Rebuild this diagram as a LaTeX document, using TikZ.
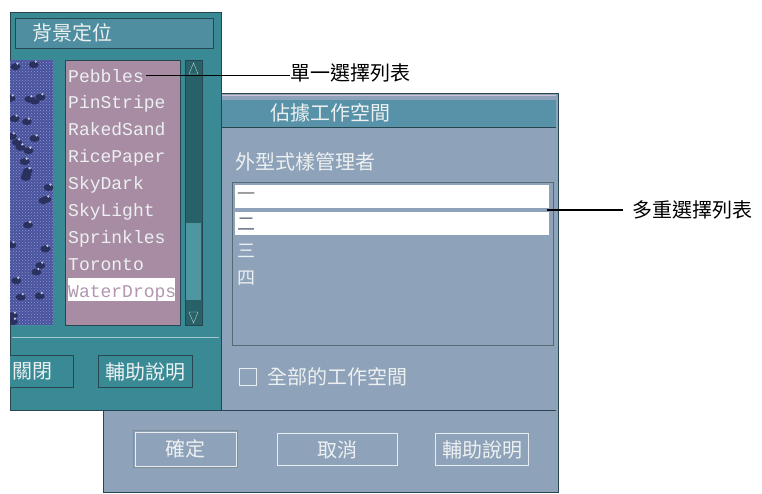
\documentclass[tikz,border=0pt]{standalone}
\usepackage{fontspec}
\newfontfamily\cjk{Noto Sans CJK TC}
\setmonofont{Liberation Mono}
\usetikzlibrary{patterns,positioning}

\definecolor{winteal}{RGB}{58,138,150}
\definecolor{titleteal}{RGB}{78,142,160}
\definecolor{listmauve}{RGB}{168,140,163}
\definecolor{texblue}{RGB}{72,82,158}
\definecolor{bodyblue}{RGB}{142,162,186}
\definecolor{rtitle}{RGB}{88,146,168}
\definecolor{lighttext}{RGB}{236,240,240}
\definecolor{selpink}{RGB}{178,150,178}
\definecolor{edgedark}{RGB}{40,70,80}

\begin{document}
\begin{tikzpicture}[x=1pt, y=-1pt, every node/.style={inner sep=0pt}]

\tikzset{
    frame/.style={draw=edgedark, line width=0.8pt},
    cjktext/.style={font=\cjk\fontsize{20}{22}\selectfont, text=lighttext, anchor=west},
    note/.style={font=\cjk\fontsize{20}{22}\selectfont, text=black, anchor=west},
    listitem/.style={font=\ttfamily\fontsize{18}{20}\selectfont, text=lighttext, anchor=base west},
    lbtn/.style={draw=edgedark, line width=1pt, fill=winteal, anchor=north west},
    rbtn/.style={draw=white!80!bodyblue, line width=1.2pt, fill=bodyblue, anchor=north west},
    leader/.style={draw=black, line width=1.5pt}
}

\useasboundingbox (0,0) rectangle (762,493);

% window behind: occupy workspace
\draw[frame, fill=bodyblue] (103,93) rectangle (558,492);
\draw[selpink!60!white, line width=1pt] (222,95) -- (556,95);
\fill[rtitle] (222,100) rectangle (556,127);
\draw[frame] (222,127) -- (556,127);
\node[cjktext] (rtitletext) at (270,113) {佔據工作空間};
\node[cjktext] (mgr) at (235,162) {外型式樣管理者};
\node[frame, draw=edgedark!80, fill=bodyblue, minimum width=321, minimum height=163, anchor=north west] (multi) at (232,182) {};
\fill[white] (235,185) rectangle (549,208);
\fill[white] (235,212) rectangle (549,235);
\foreach \t/\c [count=\i] in {一/gray, 二/bodyblue!70!black, 三/lighttext, 四/lighttext} {
    \node[cjktext, font=\cjk\fontsize{18}{20}\selectfont, text=\c] (row\i) at (237, {197 + 27*(\i-1)}) {\t};
}
\node[draw=white!80!bodyblue, line width=1.2pt, minimum size=17, anchor=north west] (chk) at (239,368) {};
\node[cjktext, right=10pt of chk] (allws) {全部的工作空間};
\draw[frame] (105,410) -- (556,410);
\node[rbtn, draw=edgedark!60, minimum width=104, minimum height=37] (ok) at (133,430) {};
\draw[white!80!bodyblue] ([shift={(2,-2)}]ok.south west) rectangle ([shift={(-2,2)}]ok.north east);
\node[cjktext, anchor=center] at (ok) {確定};
\node[rbtn, minimum width=120, minimum height=32] (cancel) at (277,433) {};
\node[cjktext, anchor=center] at (cancel) {取消};
\node[rbtn, minimum width=93, minimum height=32] (rhelp) at (435,433) {};
\node[cjktext, anchor=center] at (rhelp) {輔助說明};

% window in front: backdrop style
\draw[frame, fill=winteal] (10,12) rectangle (221,410);
\node[frame, fill=titleteal, minimum width=198, minimum height=30, anchor=north west] (ltitle) at (15,18) {};
\node[cjktext] (ltitletext) at (32,33) {背景定位};
\begin{scope}
    \clip (10,60) rectangle (53,325);
    \fill[texblue] (10,60) rectangle (53,325);
    \fill[pattern=crosshatch dots, pattern color=texblue!60!white] (10,60) rectangle (53,325);
    \pgfmathsetseed{42}
    \foreach \k in {1,...,30} {
        \pgfmathsetmacro\bx{10+rnd*43}
        \pgfmathsetmacro\by{60+rnd*265}
        \fill[texblue!60!black] (\bx,\by) ellipse (5 and 3.5);
        \fill[texblue!35!white] (\bx+2,\by-3) circle (1.3);
    }
\end{scope}
\node[frame, fill=listmauve, minimum width=115, minimum height=265, anchor=north west] (single) at (65,60) {};
\draw[frame, fill=winteal!70!black] (185,60) rectangle (202,325);
\fill[winteal!90!white] (186,223) rectangle (201,300);
\draw[lighttext!70!winteal] (189,74) -- (193.5,63) -- (198,74) -- cycle;
\draw[lighttext!70!winteal] (189,312) -- (193.5,323) -- (198,312) -- cycle;
\fill[white] (68,278) rectangle (175,301);
\foreach \name [count=\i] in {Pebbles,PinStripe,RakedSand,RicePaper,SkyDark,SkyLight,Sprinkles,Toronto} {
    \node[listitem] (item\i) at (68, {82 + 26.9*(\i-1)}) {\name};
}
\node[listitem, text=selpink] (item9) at (68,297) {WaterDrops};
\draw[frame, draw=lighttext!60!winteal] (12,337) -- (219,337);
\begin{scope}
    \clip (10,340) rectangle (221,410);
    \node[lbtn, minimum width=70, minimum height=32] (close) at (3,355) {};
    \node[cjktext, anchor=center] at ([xshift=-6pt]close.center) {關閉};
\end{scope}
\node[lbtn, minimum width=94, minimum height=32] (lhelp) at (98,355) {};
\node[cjktext, anchor=center] at (lhelp) {輔助說明};

% callouts
\node[note] (singlelbl) at (290,73) {單一選擇列表};
\node[note] (multilbl) at (632,210) {多重選擇列表};
\coordinate (multipt) at (547,210);
\draw[leader] ([xshift=2pt]item1.east) -- (item1.east -| singlelbl.west);
\draw[leader] (multipt) -- ([xshift=-9pt]multilbl.west);

\end{tikzpicture}
\end{document}
